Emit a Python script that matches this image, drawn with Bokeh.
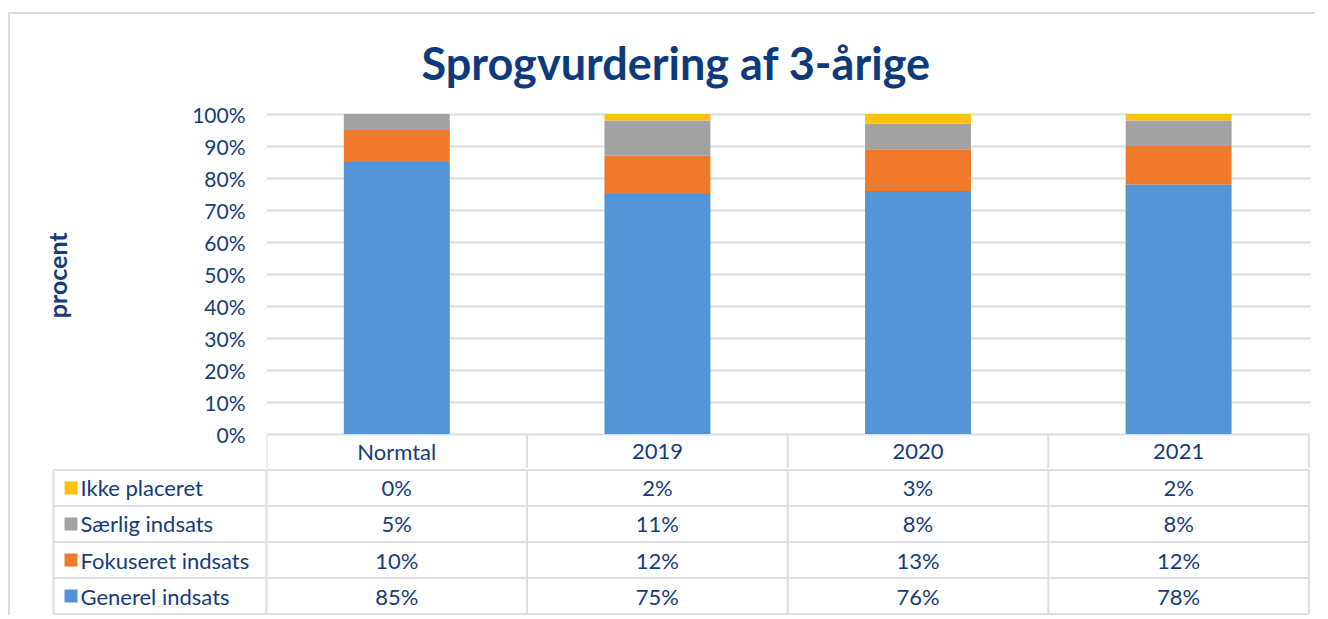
from bokeh.plotting import figure
from bokeh.models import Range1d, FixedTicker, PrintfTickFormatter, ColumnDataSource
from bokeh.layouts import column
from bokeh.core.properties import value
from bokeh.embed import file_html
from bokeh.resources import INLINE

# ---- data ----
categories = ["Normtal", "2019", "2020", "2021"]
series_names = ["Generel indsats", "Fokuseret indsats", "Særlig indsats", "Ikke placeret"]
generel = [85, 75, 76, 78]
fokuseret = [10, 12, 13, 12]
saerlig = [5, 11, 8, 8]
ikke = [0, 2, 3, 2]
y_ticks = [0, 10, 20, 30, 40, 50, 60, 70, 80, 90, 100]

colors = ["#5294d4", "#f07a2a", "#a2a2a2", "#fdc10e"]
TXT = "#133c7c"
GRID = "#dadee5"
FONT = "Lato"

n = len(categories)
xs = [i + 0.5 for i in range(n)]
keys = ["generel", "fokuseret", "saerlig", "ikke"]
values_by_series = [generel, fokuseret, saerlig, ikke]
source = ColumnDataSource(dict(x=xs, generel=generel, fokuseret=fokuseret, saerlig=saerlig, ikke=ikke))

# layout constants
FW_TOP = 1044
E = n + 0.006                 # right end of x range (small pad for edge lines)
U = FW_TOP / E                # px per category
LEG_W = 213                   # width of legend column in px
FW_BOT = FW_TOP + LEG_W + 2
x_line = -LEG_W / U           # left edge of table
x_start = -(LEG_W + 2) / U

PX_PER_PCT = 3.2
HEADER_PX = 34
Y_TOP = 100.5
FH_TOP = 356
Y_BOT = Y_TOP - FH_TOP / PX_PER_PCT        # below 0: header row of the table
header_mid = -HEADER_PX / PX_PER_PCT / 2

# ---- chart ----
top = figure(frame_width=FW_TOP, frame_height=FH_TOP,
             x_range=Range1d(0, E), y_range=Range1d(Y_BOT, Y_TOP),
             min_border_left=256, min_border_right=5, min_border_top=98, min_border_bottom=0,
             x_axis_location=None,
             output_backend="svg", toolbar_location=None,
             title="Sprogvurdering af 3-årige")
top.outline_line_color = None

top.title.align = "left"
top.title.offset = 155
top.title.vertical_align = "top"
top.title.standoff = 42
top.title.text_font = FONT
top.title.text_font_size = "45px"
top.title.text_font_style = "bold"
top.title.text_color = "#0d3a7c"

top.vbar_stack(keys, x="x", width=0.4065, fill_color=colors, line_color=None, source=source)

top.yaxis.ticker = FixedTicker(ticks=y_ticks)
top.yaxis.bounds = (0, 100)
top.yaxis.formatter = PrintfTickFormatter(format="%d%%")
top.yaxis.axis_line_color = None
top.yaxis.major_tick_line_color = None
top.yaxis.minor_tick_line_color = None
top.yaxis.major_tick_out = 0
top.yaxis.major_label_standoff = 21
top.yaxis.major_label_text_font = FONT
top.yaxis.major_label_text_font_size = "21px"
top.yaxis.major_label_text_color = TXT
# leading no-break spaces centre the word on the 0-100 % span instead of the whole frame
top.yaxis.axis_label = "\u00a0" * 5 + "procent"
top.yaxis.axis_label_text_font = FONT
top.yaxis.axis_label_text_font_size = "25px"
top.yaxis.axis_label_text_font_style = "bold"
top.yaxis.axis_label_text_color = TXT
top.yaxis.axis_label_standoff = 117

top.ygrid.ticker = FixedTicker(ticks=y_ticks)
top.ygrid.grid_line_color = GRID
top.ygrid.grid_line_width = 2
top.xgrid.visible = False

# header row of the table (category names) below the 0% line
bounds_x = list(range(n + 1))
top.segment(x0=bounds_x, x1=bounds_x, y0=[0] * len(bounds_x), y1=[Y_BOT] * len(bounds_x),
            line_color=GRID, line_width=2)
top.text(x=xs, y=[header_mid] * n, text=categories, text_font=value(FONT),
         text_font_size="22px", text_color=TXT, text_align="center", text_baseline="middle")

# ---- data table ----
bot = figure(frame_width=FW_BOT, frame_height=147,
             x_range=Range1d(x_start, E), y_range=Range1d(-0.04, 4.04),
             x_axis_type=None, y_axis_type=None,
             min_border_left=41, min_border_right=5, min_border_top=0, min_border_bottom=0,
             output_backend="svg", toolbar_location=None)
bot.outline_line_color = None
bot.grid.visible = False

nrows = len(series_names)
h_y = list(range(nrows + 1))
bot.segment(x0=[x_line] * len(h_y), x1=[n] * len(h_y), y0=h_y, y1=h_y, line_color=GRID, line_width=2)
v_x = [x_line] + list(range(n + 1))
bot.segment(x0=v_x, x1=v_x, y0=[0] * len(v_x), y1=[nrows] * len(v_x), line_color=GRID, line_width=2)

row_y = [i + 0.5 for i in range(nrows)]   # Generel at bottom, Ikke at top
bot.rect(x=[x_line + 17.5 / U] * nrows, y=row_y, width=13, height=13,
         width_units="screen", height_units="screen", fill_color=colors, line_color=None)
bot.text(x=[x_line + 27 / U] * nrows, y=row_y, text=series_names,
         text_font=value(FONT), text_font_size="22px", text_color=TXT,
         text_align="left", text_baseline="middle")

cx, cy, ct = [], [], []
for r, vals in enumerate(values_by_series):
    for c, v in enumerate(vals):
        cx.append(xs[c])
        cy.append(row_y[r])
        ct.append(f"{v}%")
bot.text(x=cx, y=cy, text=ct, text_font=value(FONT), text_font_size="22px",
         text_color=TXT, text_align="center", text_baseline="middle")

# two separate roots so that Bokeh does not align the two plot frames
top_box = column(top, margin=(12, 0, 0, 8),
                 styles={"border-top": f"2px solid {GRID}", "border-left": f"2px solid {GRID}",
                         "background-color": "white"})
bot_box = column(bot, margin=(0, 0, 0, 8),
                 styles={"border-left": f"2px solid {GRID}", "background-color": "white"})

open("out.html", "w").write(file_html([top_box, bot_box], INLINE))
